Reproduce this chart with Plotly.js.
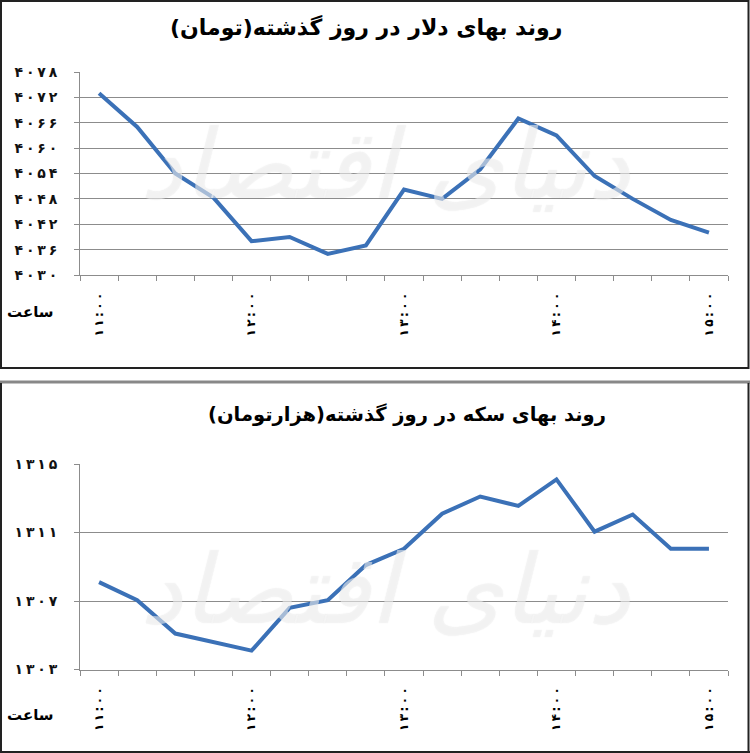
<!DOCTYPE html>
<html>
<head>
<meta charset="utf-8">
<script src="https://cdn.plot.ly/plotly-3.0.1.min.js"></script>
<style>html,body{margin:0;padding:0;background:#fff;}#chart{width:750px;height:753px;}</style>
</head>
<body>
<div id="chart"></div>
<script>
// ---- data ----
const times = ['11:00','11:15','11:30','11:45','12:00','12:15','12:30','12:45','13:00','13:15','13:30','13:45','14:00','14:15','14:30','14:45','15:00'];
const labelIdx = [0, 4, 8, 12, 16];
const labelText = ['۱۱:۰۰','۱۲:۰۰','۱۳:۰۰','۱۴:۰۰','۱۵:۰۰'];
const dollar = [4073, 4065, 4054, 4048.3, 4038, 4039, 4035, 4037, 4050.2, 4048, 4055, 4067, 4063, 4053.4, 4048, 4043, 4040];
const coin = [1308.1, 1307.05, 1305.1, 1304.6, 1304.1, 1306.6, 1307.05, 1309.1, 1310.05, 1312.1, 1313.1, 1312.55, 1314.1, 1311.05, 1312.05, 1310.05, 1310.05];
const dollarTicks = [4030, 4036, 4042, 4048, 4054, 4060, 4066, 4072, 4078];
const coinTicks = [1303, 1307, 1311, 1315];
const titleDollar = 'روند بهای دلار در روز گذشته(تومان)';
const titleCoin = 'روند بهای سکه در روز گذشته(هزارتومان)';
const xLabel = 'ساعت';
const watermark = 'دنیای اقتصاد';

const fa = s => String(s).replace(/[0-9]/g, d => '۰۱۲۳۴۵۶۷۸۹'[d]);
const spaced = s => Array.from(s).join('\u2009');
const xIdx = times.map((_, i) => i);

const W = 750, H = 753;
const px = x => x / W;
const py = y => 1 - y / H;

const lineColor = '#3b71b7';
const gridColor = '#8c8c8c';
const digitFont = {family: 'DejaVu Sans', size: 14, color: '#111', weight: 'bold'};

function xAxis(anchor) {
  return {
    anchor: anchor,
    domain: [px(80), px(728)],
    range: [-0.5, times.length - 0.5],
    tickmode: 'array',
    tickvals: labelIdx,
    ticktext: labelText.map(spaced),
    tickangle: -90,
    ticks: '',
    ticklabelstandoff: 12,
    showgrid: false,
    zeroline: false,
    showline: true,
    linecolor: gridColor,
    linewidth: 1,
    tickfont: {family: 'DejaVu Sans', size: 12, color: '#000', weight: 'bold'},
    minor: {tick0: -0.5, dtick: 1, ticks: 'outside', ticklen: 5, tickcolor: gridColor, tickwidth: 1, showgrid: false},
    fixedrange: true
  };
}
function yAxis(anchor, dom, ticks) {
  return {
    anchor: anchor,
    domain: dom,
    range: [ticks[0], ticks[ticks.length - 1]],
    tickmode: 'array',
    tickvals: ticks,
    ticktext: ticks.map(t => spaced(fa(t))),
    ticks: 'outside',
    ticklen: 5,
    tickcolor: gridColor,
    ticklabelstandoff: 14,
    showgrid: true,
    gridcolor: gridColor,
    gridwidth: 1,
    zeroline: false,
    showline: true,
    linecolor: gridColor,
    linewidth: 1,
    tickfont: digitFont,
    fixedrange: true
  };
}

const traces = [
  {x: xIdx, y: dollar, xaxis: 'x', yaxis: 'y', type: 'scatter', mode: 'lines',
   line: {color: lineColor, width: 4}, hoverinfo: 'skip', cliponaxis: false},
  {x: xIdx, y: coin, xaxis: 'x2', yaxis: 'y2', type: 'scatter', mode: 'lines',
   line: {color: lineColor, width: 4}, hoverinfo: 'skip', cliponaxis: false}
];

const wmFont = {family: 'DejaVu Sans', size: 96, color: 'rgba(255,255,255,0.5)', shadow: '0 0 1px rgba(140,140,140,0.45)', style: 'italic'};

const layout = {
  width: W, height: H,
  margin: {l: 0, r: 0, t: 0, b: 0},
  paper_bgcolor: '#fff', plot_bgcolor: 'rgba(0,0,0,0)',
  showlegend: false,
  xaxis: xAxis('y'),
  yaxis: yAxis('x', [py(275), py(72)], dollarTicks),
  xaxis2: xAxis('y2'),
  yaxis2: yAxis('x2', [py(669.5), py(464)], coinTicks),
  annotations: [
    {xref: 'paper', yref: 'paper', x: px(366), y: py(28), text: titleDollar, showarrow: false,
     font: {family: 'DejaVu Sans', size: 22, color: '#000', weight: 'bold'}, xanchor: 'center', yanchor: 'middle'},
    {xref: 'paper', yref: 'paper', x: px(407), y: py(415), text: titleCoin, showarrow: false,
     font: {family: 'DejaVu Sans', size: 19.5, color: '#000', weight: 'bold'}, xanchor: 'center', yanchor: 'middle'},
    {xref: 'paper', yref: 'paper', x: px(30), y: py(312), text: xLabel, showarrow: false,
     font: {family: 'DejaVu Sans', size: 15, color: '#000', weight: 'bold'}, xanchor: 'center', yanchor: 'middle'},
    {xref: 'paper', yref: 'paper', x: px(30), y: py(715), text: xLabel, showarrow: false,
     font: {family: 'DejaVu Sans', size: 15, color: '#000', weight: 'bold'}, xanchor: 'center', yanchor: 'middle'},
    {xref: 'paper', yref: 'paper', x: px(385), y: py(165), text: watermark, showarrow: false,
     font: wmFont, xanchor: 'center', yanchor: 'middle'},
    {xref: 'paper', yref: 'paper', x: px(385), y: py(590), text: watermark, showarrow: false,
     font: wmFont, xanchor: 'center', yanchor: 'middle'}
  ],
  shapes: [
    {type: 'rect', xref: 'paper', yref: 'paper', x0: px(1), x1: px(748.5), y0: py(368), y1: py(1),
     line: {color: '#222', width: 2}, fillcolor: 'rgba(0,0,0,0)', layer: 'above'},
    {type: 'line', xref: 'paper', yref: 'paper', x0: 0, x1: 1, y0: py(382), y1: py(382),
     line: {color: '#888', width: 3}, layer: 'above'},
    {type: 'line', xref: 'paper', yref: 'paper', x0: px(1), x1: px(1), y0: py(383), y1: py(752),
     line: {color: '#222', width: 2}, layer: 'above'},
    {type: 'line', xref: 'paper', yref: 'paper', x0: px(748.5), x1: px(748.5), y0: py(383), y1: py(752),
     line: {color: '#222', width: 2}, layer: 'above'},
    {type: 'line', xref: 'paper', yref: 'paper', x0: 0, x1: 1, y0: py(752), y1: py(752),
     line: {color: '#222', width: 2}, layer: 'above'}
  ]
};

Plotly.newPlot('chart', traces, layout, {staticPlot: true, displayModeBar: false});
</script>
</body>
</html>
